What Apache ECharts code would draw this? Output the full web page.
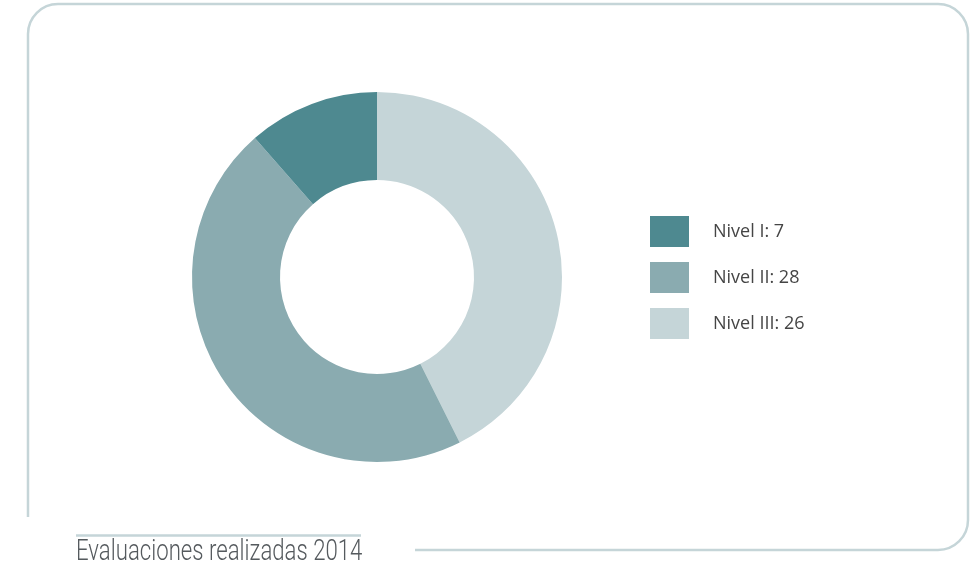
<!DOCTYPE html>
<html>
<head>
<meta charset="utf-8">
<script src="https://cdn.jsdelivr.net/npm/echarts@6/dist/echarts.min.js"></script>
<style>
  html, body { margin: 0; padding: 0; background: #fff; }
  #chart { width: 972px; height: 573px; }
</style>
</head>
<body>
<div id="chart"></div>
<script>
// datos
var niveles = ['Nivel I', 'Nivel II', 'Nivel III'];
var valores = [7, 28, 26];
var colores = ['#4e8990', '#8aabb0', '#c5d5d8'];
var titulo = 'Evaluaciones realizadas 2014';

var chart = echarts.init(document.getElementById('chart'));

// el anillo empieza arriba con Nivel III y gira en sentido horario
var orden = [2, 1, 0];
var pieData = orden.map(function (i) {
  return { name: niveles[i], value: valores[i], itemStyle: { color: colores[i] } };
});

var option = {
  animation: false,
  legend: {
    orient: 'vertical',
    left: 650,
    top: 216,
    padding: 0,
    itemWidth: 39,
    itemHeight: 31,
    itemGap: 15,
    icon: 'rect',
    data: niveles,
    formatter: function (name) {
      return name + ': ' + valores[niveles.indexOf(name)];
    },
    textStyle: {
      fontFamily: 'Open Sans',
      fontSize: 18,
      color: '#454545',
      padding: [0, 0, 0, 19]
    }
  },
  graphic: [
    {
      // marco redondeado
      type: 'rect',
      z: 0,
      shape: { x: 28, y: 4, width: 940, height: 546, r: 30 },
      style: { fill: null, stroke: '#c5d5d8', lineWidth: 2.5 }
    },
    {
      // hueco del marco abajo a la izquierda
      type: 'rect',
      z: 1,
      shape: { x: 15, y: 517, width: 400, height: 45 },
      style: { fill: '#fff' }
    },
    {
      type: 'line',
      z: 2,
      shape: { x1: 76, y1: 535.5, x2: 361, y2: 535.5 },
      style: { stroke: '#c5d5d8', lineWidth: 2.5 }
    },
    {
      type: 'text',
      z: 2,
      x: 76,
      y: 567,
      scaleX: 0.765,
      style: {
        text: titulo,
        fontFamily: 'Roboto',
        fontWeight: 300,
        fontSize: 29,
        fill: '#555a5e',
        verticalAlign: 'bottom'
      }
    }
  ],
  series: [
    {
      type: 'pie',
      center: [377, 277],
      radius: [97, 185],
      startAngle: 90,
      clockwise: true,
      label: { show: false },
      labelLine: { show: false },
      emphasis: { scale: false },
      data: pieData
    }
  ]
};

chart.setOption(option);
</script>
</body>
</html>
